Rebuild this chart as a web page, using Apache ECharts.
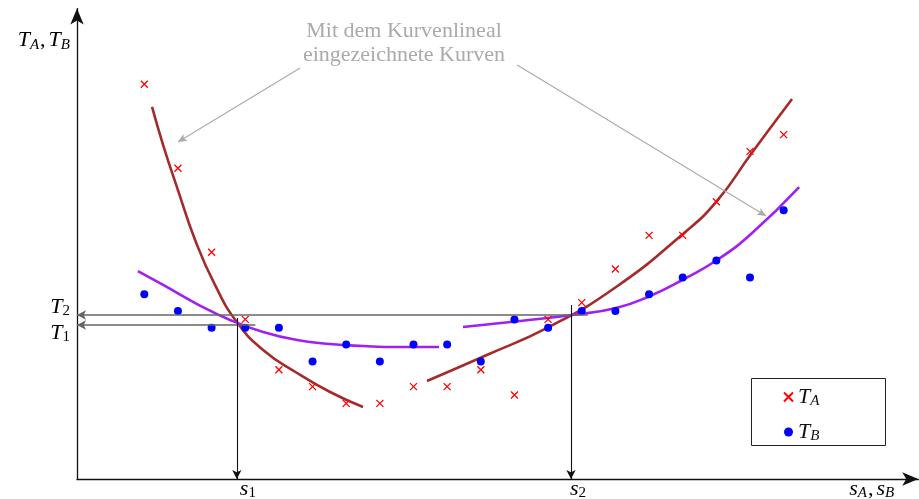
<!DOCTYPE html>
<html><head><meta charset="utf-8">
<script src="https://cdn.jsdelivr.net/npm/echarts@6/dist/echarts.min.js"></script>
<style>html,body{margin:0;padding:0;background:#fff}#c{width:919px;height:499px}</style>
</head><body><div id="c"></div>
<script>
// Measurement positions along s (both series sampled at the same spots)
const positions = [2,3,4,5,6,7,8,9,10,11,12,13,14,15,16,17,18,19,20,21];
const valuesA = [47,37,27,19,13,11,9,9,11,11,13,10,19,21,25,29,29,33,39,41];
const valuesB = [22,20,18,18,18,14,16,14,16,16,14,19,18,20,20,22,24,26,24,32];

// Hand-drawn curves (French curve) through the measured points
const curveA1 = [[2.23,44.29],[2.56,39.76],[3.0,34.4],[3.51,28.45],[4.10,23.1],[4.75,18.69],[5.53,15.36],[6.54,12.62],[7.52,10.36],[8.5,8.57]];
const curveA2 = [[10.40,11.67],[12.18,14.76],[14.03,18.10],[16.02,22.86],[18.04,29.29],[19.02,33.1],[20.03,38.69],[21.25,45.24]];
const curveB1 = [[1.81,24.76],[2.56,23.1],[3.57,20.83],[4.55,18.93],[5.53,17.5],[6.54,16.55],[7.52,16.07],[8.5,15.83],[9.51,15.71],[10.76,15.71]];
const curveB2 = [[11.47,18.1],[13.17,18.81],[14.71,19.52],[16.02,20.36],[17.03,21.79],[18.04,23.81],[19.02,26.07],[20.03,29.17],[21.46,34.76]];

// Intersection readings
const s1 = 4.75, s2 = 14.68;
const T1 = 18.33, T2 = 19.52;

const serif = 'Liberation Serif';
const ink = '#111';
const rich = {
  t: {fontFamily: serif, fontStyle: 'italic', fontSize: 22, color: ink},
  sub: {fontFamily: serif, fontStyle: 'italic', fontSize: 15, color: ink, padding: [9, 0, 0, 0]},
  n: {fontFamily: serif, fontSize: 15, color: ink, padding: [9, 0, 0, 0]},
  c: {fontFamily: serif, fontSize: 22, color: ink, padding: [0, 3, 0, 1]}
};

const crossPath = 'path://M0,0L10,10M10,0L0,10';
const pairs = (xs, ys) => xs.map((x, i) => [x, ys[i]]);

const chart = echarts.init(document.getElementById('c'), null, {renderer: 'canvas'});

const axisCommon = {
  type: 'value',
  axisTick: {show: false},
  axisLabel: {show: false},
  splitLine: {show: false},
  axisLine: {show: true, symbol: ['none', 'arrow'], symbolSize: [10, 16], lineStyle: {color: ink, width: 1.3}}
};

function curve(data, color) {
  return {type: 'line', data, smooth: 0.5, showSymbol: false, silent: true,
    lineStyle: {color, width: 2.6}, z: 3};
}

const helperStyle = {color: '#666', width: 1.6, type: 'solid'};
const dropStyle = {color: ink, width: 1.1, type: 'solid'};
const noteStyle = {color: '#aaa', width: 1.1, type: 'solid'};

chart.setOption({
  animation: false,
  backgroundColor: '#fff',
  grid: {left: 77, top: 479 - 56 * 8.4, width: 25 * 33.65, height: 56 * 8.4},
  xAxis: Object.assign({min: 0, max: 25}, axisCommon),
  yAxis: Object.assign({min: 0, max: 56}, axisCommon),
  legend: {
    data: ['T_A', 'T_B'], orient: 'vertical', left: 778, top: 381,
    itemWidth: 9, itemHeight: 9, itemGap: 12,
    formatter: name => name === 'T_A' ? '{t|T}{sub|A}' : '{t|T}{sub|B}',
    textStyle: {rich}
  },
  series: [
    curve(curveA1, '#a52a2a'),
    curve(curveA2, '#a52a2a'),
    curve(curveB1, '#a020f0'),
    curve(curveB2, '#a020f0'),
    {
      name: 'T_A', type: 'scatter', data: pairs(positions, valuesA), z: 4,
      symbol: crossPath, symbolSize: 7,
      itemStyle: {color: 'rgba(0,0,0,0)', borderColor: '#ff0000', borderWidth: 1.3, opacity: 1}
    },
    {
      name: 'T_B', type: 'scatter', data: pairs(positions, valuesB), z: 4,
      symbol: 'circle', symbolSize: 8,
      itemStyle: {color: '#0000ff', opacity: 1}
    },
    {
      type: 'line', data: [], silent: true, z: 2,
      markLine: {
        silent: true, animation: false, label: {show: false},
        symbolSize: [7, 9],
        data: [
          [{coord: [s2 + 0.5, T2], symbol: 'none', lineStyle: helperStyle}, {coord: [0, T2], symbol: 'arrow'}],
          [{coord: [s1 + 0.55, T1], symbol: 'none', lineStyle: helperStyle}, {coord: [0, T1], symbol: 'arrow'}],
          [{coord: [s1, 19.17], symbol: 'none', lineStyle: dropStyle}, {coord: [s1, 0], symbol: 'arrow'}],
          [{coord: [s2, 20.71], symbol: 'none', lineStyle: dropStyle}, {coord: [s2, 0], symbol: 'arrow'}],
          [{coord: [6.63, 48.93], symbol: 'none', lineStyle: noteStyle}, {coord: [3.0, 40.12], symbol: 'arrow', symbolSize: [6, 9]}],
          [{coord: [13.08, 49.29], symbol: 'none', lineStyle: noteStyle}, {coord: [20.48, 31.31], symbol: 'arrow', symbolSize: [6, 9]}]
        ]
      }
    }
  ]
});

// Axis and reading labels placed from data coordinates
const P = (x, y) => chart.convertToPixel({gridIndex: 0}, [x, y]);
const o = P(0, 0), pT1 = P(0, T1), pT2 = P(0, T2), pS1 = P(s1, 0), pS2 = P(s2, 0);
const yTop = P(0, 56);
const xEnd = P(25, 0);

function label(x, y, text, align, vAlign) {
  return {type: 'text', x, y, silent: true,
    style: {text, rich, align, verticalAlign: vAlign}};
}

chart.setOption({
  graphic: [
    label(o[0] - 7, yTop[1] + 32, '{t|T}{sub|A}{c|,}{t|T}{sub|B}', 'right', 'middle'),
    label(o[0] - 7, pT2[1] - 8, '{t|T}{n|2}', 'right', 'middle'),
    label(o[0] - 7, pT1[1] + 8, '{t|T}{n|1}', 'right', 'middle'),
    label(pS1[0] + 3, o[1] + 10, '{t|s}{n|1}', 'left', 'middle'),
    label(pS2[0] - 1, o[1] + 10, '{t|s}{n|2}', 'left', 'middle'),
    label(xEnd[0] - 24, o[1] + 10, '{t|s}{sub|A}{c|,}{t|s}{sub|B}', 'right', 'middle'),
    {type: 'text', x: 404, y: 19, silent: true,
      style: {text: 'Mit dem Kurvenlineal\neingezeichnete Kurven', fill: '#aaa',
        font: '22px "Liberation Serif"', lineHeight: 24, align: 'center', verticalAlign: 'top'}},
    {type: 'rect', silent: true, shape: {x: 751.5, y: 378.5, width: 134, height: 67},
      style: {fill: 'none', stroke: '#222', lineWidth: 1}}
  ]
});
</script>
</body></html>
